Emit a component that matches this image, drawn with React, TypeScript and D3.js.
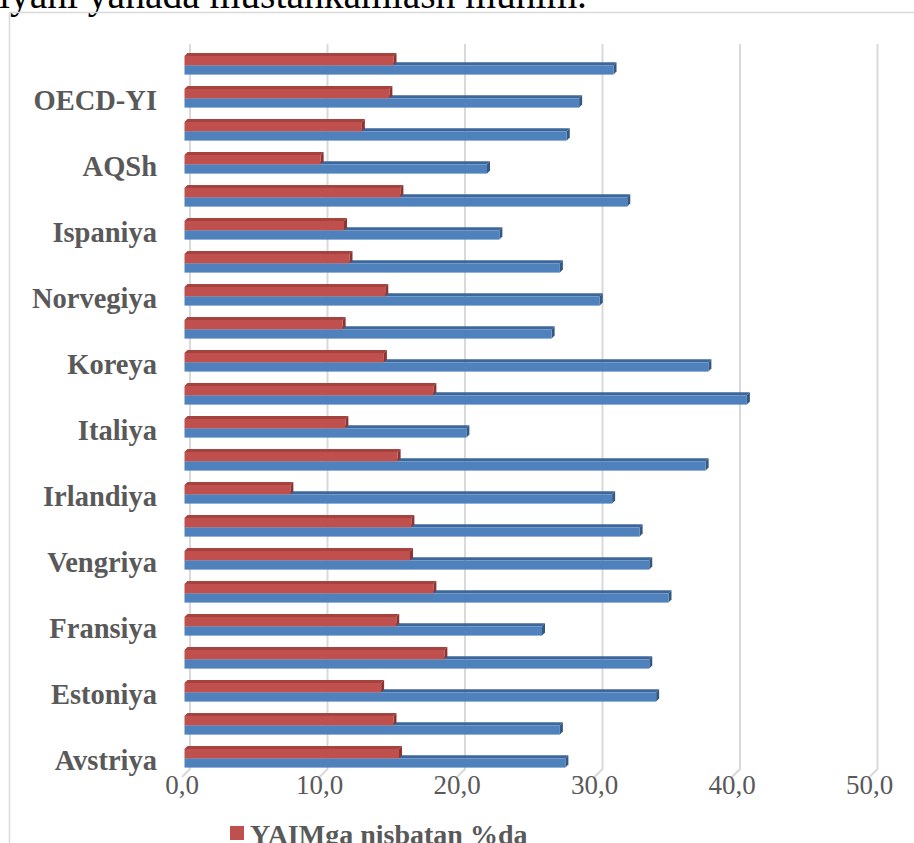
import React from "react";
import * as d3 from "d3";

// Categories from top to bottom; unlabeled rows are skipped by the axis in the original
const categories: string[] = [
  "", "OECD-YI", "", "AQSh", "", "Ispaniya", "", "Norvegiya", "", "Koreya", "",
  "Italiya", "", "Irlandiya", "", "Vengriya", "", "Fransiya", "", "Estoniya", "", "Avstriya",
];
const redValues: number[] = [
  15.2, 14.9, 12.9, 9.9, 15.7, 11.6, 12.0, 14.6, 11.5, 14.5, 18.1,
  11.7, 15.5, 7.7, 16.5, 16.4, 18.1, 15.4, 18.9, 14.3, 15.2, 15.6,
];
const blueValues: number[] = [
  31.2, 28.7, 27.8, 22.0, 32.2, 22.9, 27.3, 30.2, 26.7, 38.1, 40.9,
  20.5, 37.9, 31.1, 33.1, 33.8, 35.2, 26.0, 33.8, 34.3, 27.3, 27.7,
];
const tickValues: number[] = [0, 10, 20, 30, 40, 50];
const legendLabel = "YAIMga nisbatan %da";
const topText = "iyani yanada mustahkamlash muhim.";

const W = 914;
const H = 843;
const SERIF = "'Liberation Serif', 'Times New Roman', serif";

export default function App() {
  const idx = categories.map((_, i) => String(i));
  const step = 33;
  const top = 65.3 - step / 2;
  const pad = 0.436;
  const y = d3
    .scaleBand<string>()
    .domain(idx)
    .range([top, top + step * categories.length])
    .paddingInner(pad)
    .paddingOuter(pad / 2);
  const sub = d3.scaleBand<string>().domain(["red", "blue"]).range([0, y.bandwidth()]);

  const xFront = d3.scaleLinear().domain([0, 50]).range([184.5, 872]);
  const xBack = d3.scaleLinear().domain([0, 50]).range([190, 877.5]);
  const depth = 3;
  const gridTop = 44;
  const gridBottom = 769;
  const foot = 8;

  const bar = (key: string, v: number, i: number, s: "red" | "blue") => {
    const x0 = xFront(0);
    const x1 = xFront(v);
    const y0 = (y(String(i)) as number) + (sub(s) as number);
    const h = sub.bandwidth();
    const cFront = s === "red" ? "#c0504d" : "#4f81bd";
    const cTop = s === "red" ? "#a5433f" : "#3d679b";
    const cSide = s === "red" ? "#8c3431" : "#34587f";
    const d = depth;
    return (
      <g key={key}>
        <polygon
          points={`${x0},${y0} ${x1},${y0} ${x1 + d},${y0 - d} ${x0 + d},${y0 - d}`}
          fill={cTop}
        />
        <polygon
          points={`${x1},${y0} ${x1 + d},${y0 - d} ${x1 + d},${y0 + h - d} ${x1},${y0 + h}`}
          fill={cSide}
        />
        <rect x={x0} y={y0} width={x1 - x0} height={h} fill={cFront} />
      </g>
    );
  };

  return (
    <svg
      width={W}
      height={H}
      style={{ position: "absolute", left: 0, top: 0, background: "#fff" }}
    >
      <rect x={0} y={0} width={W} height={H} fill="#fff" />
      <text x={-1} y={8} fontFamily={SERIF} fontSize={39.5} fill="#000">
        {topText}
      </text>
      <rect x={9.5} y={12.5} width={W + 20} height={H + 20} fill="none" stroke="#d9d9d9" strokeWidth={1.5} />

      {tickValues.map((t) => (
        <g key={"g" + t}>
          <polyline
            points={`${xBack(t)},${gridTop} ${xBack(t)},${gridBottom} ${xBack(t) - foot},${gridBottom + foot}`}
            fill="none"
            stroke="#d9d9d9"
            strokeWidth={2}
          />
          <text
            x={xBack(t) - foot}
            y={794}
            textAnchor="middle"
            fontFamily={SERIF}
            fontSize={27}
            fill="#595959"
          >
            {d3.format(".1f")(t).replace(".", ",")}
          </text>
        </g>
      ))}

      {categories.map((_, i) => bar("b" + i, blueValues[i], i, "blue"))}
      {categories.map((_, i) => bar("r" + i, redValues[i], i, "red"))}

      {categories.map((c, i) =>
        c ? (
          <text
            key={"l" + i}
            x={157}
            y={(y(String(i)) as number) + y.bandwidth() / 2 + 12}
            textAnchor="end"
            fontFamily={SERIF}
            fontWeight="bold"
            fontSize={28.5}
            fill="#595959"
          >
            {c}
          </text>
        ) : null
      )}

      <rect x={230} y={826} width={14} height={14} fill="#c0504d" />
      <text x={250} y={844} fontFamily={SERIF} fontWeight="bold" fontSize={28} fill="#595959">
        {legendLabel}
      </text>
    </svg>
  );
}
